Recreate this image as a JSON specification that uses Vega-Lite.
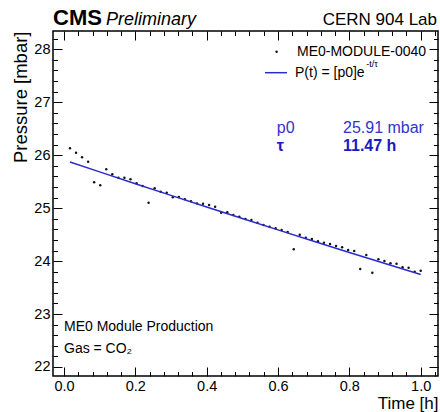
{
  "$schema": "https://vega.github.io/schema/vega-lite/v6.json",
  "width": 385,
  "height": 345,
  "autosize": {"type": "none"},
  "padding": {"left": 53, "top": 31, "right": 2, "bottom": 36},
  "background": "white",
  "config": {
    "view": {"stroke": "black", "strokeWidth": 1.5},
    "font": "Liberation Sans",
    "axis": {"domain": false, "grid": false, "tickColor": "black", "tickWidth": 1, "labelColor": "black", "labelFont": "Liberation Sans", "labelFontSize": 14.5, "labelFlush": false, "labelOverlap": false, "labelBound": false, "titleFont": "Liberation Sans", "titleFontWeight": "normal", "titleColor": "black"}
  },
  "datasets": {
    "meas": [
      {"t": 0.0168, "p": 26.130}, {"t": 0.0338, "p": 26.047}, {"t": 0.0507, "p": 25.960}, {"t": 0.0677, "p": 25.877},
      {"t": 0.0846, "p": 25.488}, {"t": 0.1016, "p": 25.432}, {"t": 0.1185, "p": 25.734}, {"t": 0.1355, "p": 25.639},
      {"t": 0.1525, "p": 25.575}, {"t": 0.1694, "p": 25.575}, {"t": 0.1864, "p": 25.545}, {"t": 0.2033, "p": 25.469},
      {"t": 0.2203, "p": 25.420}, {"t": 0.2372, "p": 25.103}, {"t": 0.2542, "p": 25.375}, {"t": 0.2711, "p": 25.311},
      {"t": 0.2881, "p": 25.292}, {"t": 0.3050, "p": 25.205}, {"t": 0.3220, "p": 25.211}, {"t": 0.3389, "p": 25.170},
      {"t": 0.3559, "p": 25.130}, {"t": 0.3729, "p": 25.090}, {"t": 0.3898, "p": 25.084}, {"t": 0.4068, "p": 25.060},
      {"t": 0.4237, "p": 25.027}, {"t": 0.4407, "p": 24.914}, {"t": 0.4576, "p": 24.922}, {"t": 0.4746, "p": 24.870},
      {"t": 0.4915, "p": 24.839}, {"t": 0.5085, "p": 24.795}, {"t": 0.5254, "p": 24.776}, {"t": 0.5424, "p": 24.725},
      {"t": 0.5593, "p": 24.682}, {"t": 0.5763, "p": 24.650}, {"t": 0.5932, "p": 24.619}, {"t": 0.6102, "p": 24.587},
      {"t": 0.6271, "p": 24.550}, {"t": 0.6441, "p": 24.223}, {"t": 0.6610, "p": 24.499}, {"t": 0.6780, "p": 24.440},
      {"t": 0.6949, "p": 24.417}, {"t": 0.7119, "p": 24.374}, {"t": 0.7288, "p": 24.348}, {"t": 0.7458, "p": 24.323},
      {"t": 0.7627, "p": 24.285}, {"t": 0.7797, "p": 24.261}, {"t": 0.7966, "p": 24.210}, {"t": 0.8136, "p": 24.191},
      {"t": 0.8305, "p": 23.851}, {"t": 0.8475, "p": 24.115}, {"t": 0.8644, "p": 23.781}, {"t": 0.8814, "p": 24.034},
      {"t": 0.8983, "p": 24.002}, {"t": 0.9153, "p": 23.958}, {"t": 0.9322, "p": 23.950}, {"t": 0.9492, "p": 23.883},
      {"t": 0.9661, "p": 23.875}, {"t": 0.9831, "p": 23.800}, {"t": 1.0000, "p": 23.819}
    ],
    "fit": [
      {"t": 0.0168, "p": 25.872}, {"t": 0.1, "p": 25.685}, {"t": 0.2, "p": 25.462}, {"t": 0.3, "p": 25.241},
      {"t": 0.4, "p": 25.022}, {"t": 0.5, "p": 24.805}, {"t": 0.6, "p": 24.590}, {"t": 0.7, "p": 24.376},
      {"t": 0.8, "p": 24.164}, {"t": 0.9, "p": 23.955}, {"t": 1.0, "p": 23.747}
    ],
    "one": [{}]
  },
  "layer": [
    {
      "data": {"name": "meas"},
      "mark": {"type": "circle", "size": 6, "color": "#111111", "opacity": 1},
      "encoding": {
        "x": {"field": "t", "type": "quantitative",
          "scale": {"domain": [-0.0308, 1.0485], "nice": false, "zero": false},
          "axis": {"orient": "bottom",
            "values": [0,0.04,0.08,0.12,0.16,0.2,0.24,0.28,0.32,0.36,0.4,0.44,0.48,0.52,0.56,0.6,0.64,0.68,0.72,0.76,0.8,0.84,0.88,0.92,0.96,1,1.04],
            "tickSize": {"condition": {"test": "abs(datum.value*5 - round(datum.value*5)) < 0.001", "value": -9}, "value": -4.5},
            "labelExpr": "abs(datum.value*5 - round(datum.value*5)) < 0.001 ? format(datum.value, '.1f') : ''",
            "labelPadding": 12,
            "title": "Time [h]", "titleAnchor": "end", "titleBaseline": "alphabetic", "titleY": 32, "titleFontSize": 17}
        },
        "y": {"field": "p", "type": "quantitative",
          "scale": {"domain": [21.83, 28.3456], "nice": false, "zero": false},
          "axis": {"orient": "left",
            "values": [22,22.2,22.4,22.6,22.8,23,23.2,23.4,23.6,23.8,24,24.2,24.4,24.6,24.8,25,25.2,25.4,25.6,25.8,26,26.2,26.4,26.6,26.8,27,27.2,27.4,27.6,27.8,28,28.2],
            "tickSize": {"condition": {"test": "abs(datum.value - round(datum.value)) < 0.001", "value": -9}, "value": -4.5},
            "labelExpr": "abs(datum.value - round(datum.value)) < 0.001 ? format(datum.value, 'd') : ''",
            "labelPadding": 12,
            "title": "Pressure [mbar]", "titleAnchor": "end", "titleBaseline": "alphabetic", "titleX": -27, "titleFontSize": 18.5}
        }
      }
    },
    {
      "data": {"name": "fit"},
      "mark": {"type": "line", "color": "#2a2ad0", "strokeWidth": 1.5},
      "encoding": {
        "x": {"field": "t", "type": "quantitative",
          "axis": {"orient": "top", "labels": false, "title": null,
            "values": [0,0.04,0.08,0.12,0.16,0.2,0.24,0.28,0.32,0.36,0.4,0.44,0.48,0.52,0.56,0.6,0.64,0.68,0.72,0.76,0.8,0.84,0.88,0.92,0.96,1,1.04],
            "tickSize": {"condition": {"test": "abs(datum.value*5 - round(datum.value*5)) < 0.001", "value": -9}, "value": -4.5}}},
        "y": {"field": "p", "type": "quantitative",
          "axis": {"orient": "right", "labels": false, "title": null,
            "values": [22,22.2,22.4,22.6,22.8,23,23.2,23.4,23.6,23.8,24,24.2,24.4,24.6,24.8,25,25.2,25.4,25.6,25.8,26,26.2,26.4,26.6,26.8,27,27.2,27.4,27.6,27.8,28,28.2],
            "tickSize": {"condition": {"test": "abs(datum.value - round(datum.value)) < 0.001", "value": -9}, "value": -4.5}}}
      }
    },
    {
      "data": {"name": "one"},
      "mark": {"type": "text", "text": "CMS", "font": "Liberation Sans", "fontWeight": "bold", "fontSize": 22, "align": "left", "baseline": "alphabetic", "color": "black"},
      "encoding": {"x": {"datum": -0.0308, "type": "quantitative", "axis": null}, "y": {"datum": 28.459, "type": "quantitative", "axis": null}}
    },
    {
      "data": {"name": "one"},
      "mark": {"type": "text", "text": "Preliminary", "font": "Liberation Sans", "fontStyle": "italic", "fontSize": 18, "align": "left", "baseline": "alphabetic", "color": "black"},
      "encoding": {"x": {"datum": 0.1177, "type": "quantitative", "axis": null}, "y": {"datum": 28.459, "type": "quantitative", "axis": null}}
    },
    {
      "data": {"name": "one"},
      "mark": {"type": "text", "text": "CERN 904 Lab", "font": "Liberation Sans", "fontSize": 17, "align": "right", "baseline": "alphabetic", "color": "black"},
      "encoding": {"x": {"datum": 1.0457, "type": "quantitative", "axis": null}, "y": {"datum": 28.459, "type": "quantitative", "axis": null}}
    },
    {
      "data": {"name": "one"},
      "mark": {"type": "circle", "size": 6, "color": "#111111", "opacity": 1},
      "encoding": {"x": {"datum": 0.596, "type": "quantitative", "axis": null}, "y": {"datum": 27.955, "type": "quantitative", "axis": null}}
    },
    {
      "data": {"name": "one"},
      "mark": {"type": "text", "text": "ME0-MODULE-0040", "font": "Liberation Sans", "fontSize": 14, "align": "left", "baseline": "alphabetic", "color": "black"},
      "encoding": {"x": {"datum": 0.6532, "type": "quantitative", "axis": null}, "y": {"datum": 27.873, "type": "quantitative", "axis": null}}
    },
    {
      "data": {"name": "one"},
      "mark": {"type": "rule", "color": "#2a2ad0", "strokeWidth": 1.5},
      "encoding": {"x": {"datum": 0.5635, "type": "quantitative", "axis": null}, "x2": {"datum": 0.625}, "y": {"datum": 27.558, "type": "quantitative", "axis": null}}
    },
    {
      "data": {"name": "one"},
      "mark": {"type": "text", "text": "P(t) = [p0]e", "font": "Liberation Sans", "fontSize": 14, "align": "left", "baseline": "alphabetic", "color": "black"},
      "encoding": {"x": {"datum": 0.6476, "type": "quantitative", "axis": null}, "y": {"datum": 27.477, "type": "quantitative", "axis": null}}
    },
    {
      "data": {"name": "one"},
      "mark": {"type": "text", "text": "-t/τ", "font": "Liberation Sans", "fontSize": 9, "align": "left", "baseline": "alphabetic", "color": "black"},
      "encoding": {"x": {"datum": 0.8475, "type": "quantitative", "axis": null}, "y": {"datum": 27.665, "type": "quantitative", "axis": null}}
    },
    {
      "data": {"name": "one"},
      "mark": {"type": "text", "text": "p0", "font": "Liberation Sans", "fontSize": 16, "align": "left", "baseline": "alphabetic", "color": "#3333cc"},
      "encoding": {"x": {"datum": 0.5967, "type": "quantitative", "axis": null}, "y": {"datum": 26.419, "type": "quantitative", "axis": null}}
    },
    {
      "data": {"name": "one"},
      "mark": {"type": "text", "text": "25.91 mbar", "font": "Liberation Sans", "fontSize": 16, "align": "left", "baseline": "alphabetic", "color": "#3333cc"},
      "encoding": {"x": {"datum": 0.7822, "type": "quantitative", "axis": null}, "y": {"datum": 26.419, "type": "quantitative", "axis": null}}
    },
    {
      "data": {"name": "one"},
      "mark": {"type": "text", "text": "τ", "font": "Liberation Sans", "fontWeight": "bold", "fontSize": 16, "align": "left", "baseline": "alphabetic", "color": "#1a1abf"},
      "encoding": {"x": {"datum": 0.5967, "type": "quantitative", "axis": null}, "y": {"datum": 26.079, "type": "quantitative", "axis": null}}
    },
    {
      "data": {"name": "one"},
      "mark": {"type": "text", "text": "11.47 h", "font": "Liberation Sans", "fontWeight": "bold", "fontSize": 16, "align": "left", "baseline": "alphabetic", "color": "#1a1abf"},
      "encoding": {"x": {"datum": 0.7822, "type": "quantitative", "axis": null}, "y": {"datum": 26.079, "type": "quantitative", "axis": null}}
    },
    {
      "data": {"name": "one"},
      "mark": {"type": "text", "text": "ME0 Module Production", "font": "Liberation Sans", "fontSize": 14, "align": "left", "baseline": "alphabetic", "color": "black"},
      "encoding": {"x": {"datum": 0.0, "type": "quantitative", "axis": null}, "y": {"datum": 22.68, "type": "quantitative", "axis": null}}
    },
    {
      "data": {"name": "one"},
      "mark": {"type": "text", "text": "Gas = CO₂", "font": "Liberation Sans", "fontSize": 14, "align": "left", "baseline": "alphabetic", "color": "black"},
      "encoding": {"x": {"datum": 0.0, "type": "quantitative", "axis": null}, "y": {"datum": 22.27, "type": "quantitative", "axis": null}}
    }
  ],
  "resolve": {"axis": {"x": "independent", "y": "independent"}}
}
